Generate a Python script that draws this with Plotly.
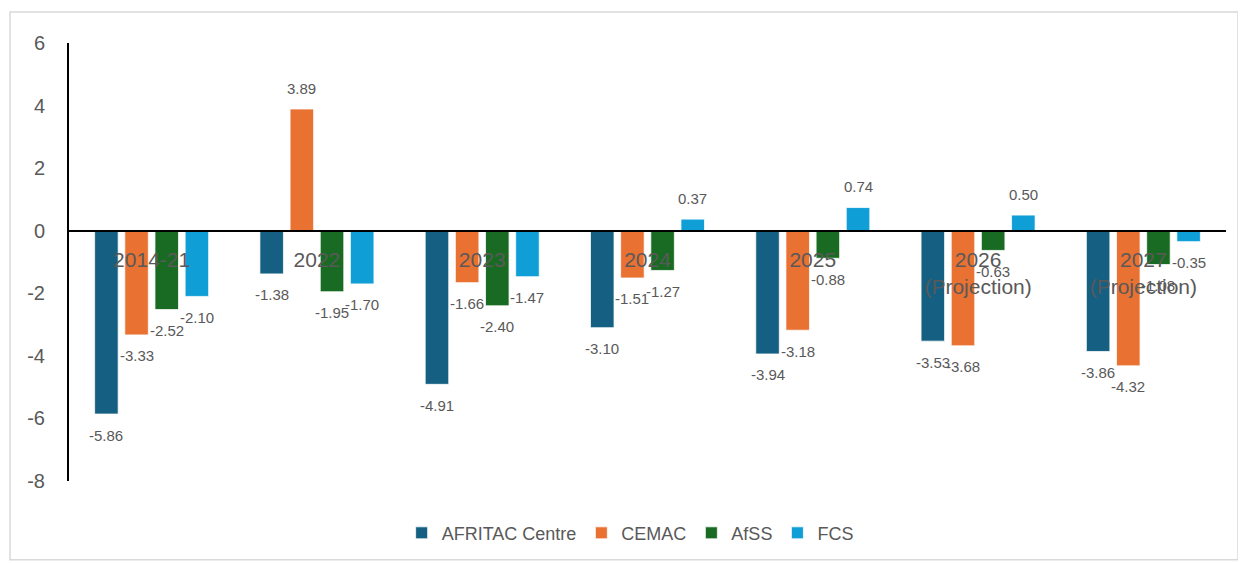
import plotly.graph_objects as go

# categories and series values
categories = ["2014-21", "2022", "2023", "2024", "2025",
              "2026<br>(Projection)", "2027<br>(Projection)"]
afritac_centre = [-5.86, -1.38, -4.91, -3.10, -3.94, -3.53, -3.86]
cemac = [-3.33, 3.89, -1.66, -1.51, -3.18, -3.68, -4.32]
afss = [-2.52, -1.95, -2.40, -1.27, -0.88, -0.63, -1.08]
fcs = [-2.10, -1.70, -1.47, 0.37, 0.74, 0.50, -0.35]
y_ticks = [-8, -6, -4, -2, 0, 2, 4, 6]

series = [
    ("AFRITAC Centre", afritac_centre, "#156082"),
    ("CEMAC", cemac, "#E97132"),
    ("AfSS", afss, "#196B24"),
    ("FCS", fcs, "#0F9ED5"),
]

y_min, y_max = -8, 6
label_grey = "#595959"
font_family = "Liberation Sans, Arial, sans-serif"

# the page body adds an 8px margin, so the figure is 8px smaller than the window
fig_w, fig_h = 1238, 555
margin = dict(l=61, r=20, t=35, b=82)
plot_w = fig_w - margin["l"] - margin["r"]
bargap = 0.27
slot_px = plot_w / len(categories) * (1 - bargap) / len(series)

fig = go.Figure()

for i, (name, values, color) in enumerate(series):
    fig.add_trace(go.Bar(
        x=categories,
        y=values,
        name=name,
        marker=dict(color=color, line=dict(color="white", width=0.75)),
    ))
    # value labels, a little away from the bar end like Excel's "outside end"
    for j, v in enumerate(values):
        fig.add_annotation(
            x=j, y=v, xref="x", yref="y",
            text=f"{v:.2f}",
            showarrow=False,
            xshift=(i - (len(series) - 1) / 2) * slot_px,
            yshift=21 if v >= 0 else -21,
            font=dict(size=15, color=label_grey, family=font_family),
        )

# light grey chart-area border
fig.add_shape(
    type="rect", xref="paper", yref="paper",
    x0=-0.051, x1=1.0104, y0=-0.18, y1=1.0708,
    line=dict(color="#D9D9D9", width=1.5),
    fillcolor="rgba(0,0,0,0)", layer="below",
)

fig.update_layout(
    width=fig_w,
    height=fig_h,
    margin=dict(**margin, autoexpand=False),
    paper_bgcolor="white",
    plot_bgcolor="white",
    barmode="group",
    bargap=bargap,
    bargroupgap=0.22,
    font=dict(family=font_family, color=label_grey),
    showlegend=True,
    legend=dict(
        orientation="h",
        x=0.485, xanchor="center",
        y=-0.119, yanchor="middle",
        font=dict(size=18, color=label_grey),
        traceorder="normal",
    ),
    xaxis=dict(
        type="category",
        anchor="free",
        position=(0 - y_min) / (y_max - y_min),
        showline=True,
        linecolor="black",
        linewidth=2,
        ticks="",
        showgrid=False,
        tickfont=dict(size=21, color=label_grey),
        ticklabelstandoff=10,
    ),
    yaxis=dict(
        range=[y_min, y_max],
        tickvals=y_ticks,
        ticktext=[str(t) for t in y_ticks],
        showline=True,
        linecolor="black",
        linewidth=2,
        showgrid=False,
        zeroline=False,
        ticks="",
        tickfont=dict(size=20, color=label_grey),
        ticklabelstandoff=18,
    ),
)

fig.write_html("out.html")
